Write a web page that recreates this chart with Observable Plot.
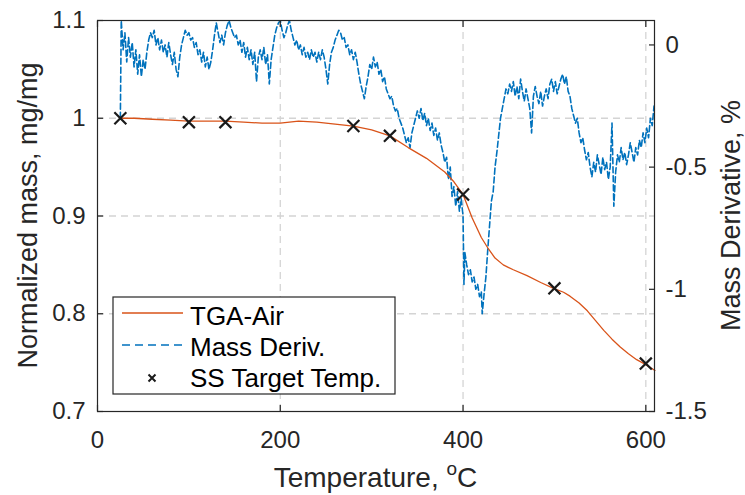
<!DOCTYPE html>
<html><head><meta charset="utf-8">
<script src="https://cdn.jsdelivr.net/npm/d3@7"></script>
<script src="https://cdn.jsdelivr.net/npm/@observablehq/plot@0.6"></script>
<style>
html,body{margin:0;padding:0;background:#fff;}
#wrap{position:relative;width:745px;height:495px;}
</style></head><body><div id="wrap"></div>
<script>
// TGA-Air normalized mass (left axis)
const tgaT = [25,40,60,80,100,120,140,160,180,200,220,240,260,280,300,320,340,360,380,390,400,410,420,428,435,444,455,470,485,499,510,517,527,536,545,554,563,572,581,590,600,610];
const tgaM = [1.000,1.000,0.999,0.998,0.997,0.997,0.997,0.996,0.995,0.995,0.997,0.996,0.994,0.992,0.988,0.982,0.970,0.959,0.945,0.935,0.922,0.898,0.878,0.866,0.857,0.850,0.845,0.839,0.832,0.826,0.822,0.818,0.811,0.803,0.793,0.783,0.774,0.766,0.759,0.753,0.748,0.742];
// SS target temperatures
const ssT = [25,100,140,280,320,400,500,600];
const ssM = [1.000,0.996,0.996,0.992,0.982,0.922,0.826,0.749];
// Mass derivative, % (right axis)
const derivT = [25,26,28,30,32,34,36,38,40,42,44,46,48,50,52,54,56,58,60,62,64,66,68,70,72,74,76,78,80,82,84,86,88,90,92,94,96,98,100,102,104,106,108,110,112,114,116,118,120,122,124,126,128,130,132,134,136,138,140,142,144,146,148,150,152,154,156,158,160,162,164,166,168,170,172,174,176,178,180,182,184,186,188,190,192,194,196,198,200,202,204,206,208,210,212,214,216,218,220,222,224,226,228,230,232,234,236,238,240,242,244,246,248,250,252,254,256,258,260,262,264,266,268,270,272,274,276,278,280,282,284,286,288,290,292,294,296,298,300,302,304,306,308,310,312,314,316,318,320,322,324,326,328,330,332,334,336,338,340,342,344,346,348,350,352,354,356,358,360,362,364,366,368,370,372,374,376,378,380,382,384,386,388,390,392,394,396,398,400,401,402,404,406,408,410,412,414,416,418,420,421,423,425,427,429,431,433,435,437,439,441,443,445,447,449,451,453,455,457,459,461,463,465,467,469,471,473,475,477,479,481,483,485,487,489,491,493,495,497,499,501,503,505,507,509,511,513,515,517,519,521,523,525,527,529,531,533,535,537,539,541,543,545,547,549,551,553,555,557,559,561,563,565,567,569,571,573,575,577,579,581,583,585,587,589,591,593,595,597,599,601,603,605,607,609,610];
const derivV = [-0.30,0.10,-0.02,0.05,-0.07,0.03,-0.05,0.01,-0.09,-0.02,-0.12,-0.04,-0.13,-0.06,-0.10,-0.03,0.02,0.05,0.03,0.06,0.00,0.03,-0.02,0.02,-0.03,0.00,-0.05,0.01,-0.04,-0.08,-0.03,-0.10,-0.13,-0.05,0.00,0.03,0.06,0.04,0.05,0.02,0.03,-0.01,0.01,-0.04,-0.02,-0.07,-0.03,-0.09,-0.05,-0.10,-0.07,-0.02,0.04,0.09,0.05,0.01,0.04,0.00,0.05,0.08,0.10,0.07,0.05,0.03,0.04,0.00,0.02,-0.03,0.01,-0.05,-0.01,-0.06,-0.02,-0.08,-0.03,-0.15,-0.05,-0.02,-0.06,-0.01,-0.08,-0.04,-0.16,-0.06,-0.01,0.04,0.07,0.09,0.10,0.06,0.03,0.05,0.08,0.10,0.06,0.03,0.00,0.02,-0.02,0.00,-0.04,-0.01,-0.05,-0.03,-0.06,-0.02,-0.05,-0.03,-0.07,-0.03,-0.06,-0.02,-0.05,-0.10,-0.16,-0.08,-0.03,-0.01,0.02,0.04,0.06,0.05,0.02,0.03,-0.01,0.00,-0.04,-0.02,-0.06,-0.03,-0.07,-0.12,-0.16,-0.19,-0.22,-0.17,-0.13,-0.08,-0.10,-0.05,-0.09,-0.07,-0.12,-0.10,-0.15,-0.13,-0.18,-0.20,-0.22,-0.21,-0.25,-0.27,-0.26,-0.30,-0.32,-0.34,-0.37,-0.40,-0.38,-0.42,-0.36,-0.33,-0.30,-0.27,-0.30,-0.26,-0.31,-0.28,-0.33,-0.30,-0.35,-0.32,-0.37,-0.34,-0.39,-0.36,-0.41,-0.44,-0.48,-0.46,-0.55,-0.50,-0.62,-0.58,-0.66,-0.60,-0.68,-0.63,-0.70,-0.98,-0.85,-0.90,-0.94,-0.92,-0.97,-0.95,-1.00,-0.98,-1.03,-1.01,-1.10,-1.02,-0.95,-0.84,-0.74,-0.64,-0.60,-0.50,-0.44,-0.37,-0.30,-0.26,-0.22,-0.18,-0.20,-0.16,-0.19,-0.15,-0.21,-0.17,-0.22,-0.14,-0.19,-0.23,-0.18,-0.22,-0.26,-0.36,-0.21,-0.17,-0.21,-0.24,-0.19,-0.25,-0.21,-0.18,-0.22,-0.16,-0.14,-0.19,-0.15,-0.20,-0.17,-0.14,-0.12,-0.16,-0.13,-0.19,-0.21,-0.26,-0.29,-0.32,-0.30,-0.36,-0.40,-0.38,-0.43,-0.47,-0.44,-0.50,-0.54,-0.48,-0.52,-0.45,-0.49,-0.53,-0.46,-0.51,-0.48,-0.55,-0.50,-0.32,-0.66,-0.52,-0.45,-0.48,-0.42,-0.47,-0.44,-0.49,-0.45,-0.40,-0.44,-0.48,-0.42,-0.45,-0.39,-0.42,-0.36,-0.40,-0.34,-0.38,-0.30,-0.33,-0.25,-0.28];

const xTicks = [0,200,400,600];
const leftTicks = [0.7,0.8,0.9,1,1.1];
const rightTicks = [0,-0.5,-1,-1.5];
const gridX = [200,400,600];
const gridY = [0.8,0.9,1.0];
const legendLabels = ["TGA-Air","Mass Deriv.","SS Target Temp."];
const colors = {tga:"#D95319", deriv:"#0072BD", marker:"#1a1a1a", axis:"#262626", grid:"#d4d4d4"};

// right axis mapped onto left scale: right 0 -> 1.075, -1.5 -> 0.7
const toLeft = d => 1.075 + 0.25 * d;
const fromLeft = v => (v - 1.075) / 0.25;

const tga = tgaT.map((t, i) => ({t, m: tgaM[i]}));
const ss = ssT.map((t, i) => ({t, m: ssM[i]}));
const deriv = derivT.map((t, i) => ({t, v: derivV[i]}));

const FONT = "'Liberation Sans', Arial, Helvetica, sans-serif";
const TK = 6; // inward tick length

const plot = Plot.plot({
  width: 745, height: 495,
  marginLeft: 97, marginRight: 91, marginTop: 20, marginBottom: 84,
  style: {fontFamily: FONT, fontSize: "24px", color: colors.axis, background: "#fff", overflow: "visible"},
  x: {domain: [0, 609.5]},
  y: {domain: [0.7, 1.1]},
  marks: [
    Plot.ruleX(gridX, {stroke: colors.grid, strokeDasharray: "7,5", strokeWidth: 1.3}),
    Plot.ruleY(gridY, {stroke: colors.grid, strokeDasharray: "7,5", strokeWidth: 1.3}),
    Plot.line(deriv, {x: "t", y: d => toLeft(d.v), stroke: colors.deriv, strokeWidth: 1.6, strokeDasharray: "6,3", clip: true}),
    Plot.line(tga, {x: "t", y: "m", stroke: colors.tga, strokeWidth: 1.3}),
    Plot.dot(ss, {x: "t", y: "m", symbol: "times", r: 5.5, stroke: colors.marker, strokeWidth: 2.2}),
    Plot.frame({stroke: colors.axis, strokeWidth: 1.2}),
    // labels
    Plot.axisX(xTicks, {anchor: "bottom", tickSize: 0, tickPadding: 19, label: null, fontSize: 24, fill: colors.axis, tickFormat: d => String(d)}),
    Plot.axisY(leftTicks, {anchor: "left", tickSize: 0, tickPadding: 12, label: null, fontSize: 24, fill: colors.axis, tickFormat: d => String(d)}),
    Plot.axisY(rightTicks.map(toLeft), {anchor: "right", tickSize: 0, tickPadding: 11, label: null, fontSize: 24, fill: colors.axis, tickFormat: d => String(Math.round(fromLeft(d) * 10) / 10)}),
    // inward ticks
    Plot.axisX(xTicks, {anchor: "bottom", tickSize: TK, dy: -TK, text: null, label: null, stroke: colors.axis, strokeWidth: 1.2}),
    Plot.axisX(xTicks, {anchor: "top", tickSize: TK, dy: TK, text: null, label: null, stroke: colors.axis, strokeWidth: 1.2}),
    Plot.axisY(leftTicks, {anchor: "left", tickSize: TK, dx: TK, text: null, label: null, stroke: colors.axis, strokeWidth: 1.2}),
    Plot.axisY(rightTicks.map(toLeft), {anchor: "right", tickSize: TK, dx: -TK, text: null, label: null, stroke: colors.axis, strokeWidth: 1.2})
  ]
});

const svg = d3.select(plot);
// axis titles
const xl = svg.append("text").attr("x", 375.5).attr("y", 487).attr("text-anchor", "middle")
  .attr("font-size", 28).attr("fill", colors.axis).attr("font-family", FONT);
xl.append("tspan").text("Temperature, ");
xl.append("tspan").attr("font-size", 19).attr("dy", -12).text("o");
xl.append("tspan").attr("dy", 12).text("C");
svg.append("text").attr("transform", "translate(37,215.5) rotate(-90)").attr("text-anchor", "middle")
  .attr("font-size", 27).attr("fill", colors.axis).attr("font-family", FONT).text("Normalized mass, mg/mg");
svg.append("text").attr("transform", "translate(740,215.5) rotate(-90)").attr("text-anchor", "middle")
  .attr("font-size", 27).attr("fill", colors.axis).attr("font-family", FONT).text("Mass Derivative, %");

// legend
const lg = svg.append("g").attr("font-family", FONT).attr("font-size", 26).attr("fill", "#000").attr("text-anchor", "start");
lg.append("rect").attr("x", 113).attr("y", 297).attr("width", 282).attr("height", 97)
  .attr("fill", "#fff").attr("stroke", colors.axis).attr("stroke-width", 1.2);
lg.append("line").attr("x1", 122).attr("x2", 183).attr("y1", 313).attr("y2", 313).attr("stroke", colors.tga).attr("stroke-width", 1.3);
lg.append("line").attr("x1", 122).attr("x2", 183).attr("y1", 345).attr("y2", 345).attr("stroke", colors.deriv).attr("stroke-width", 1.6).attr("stroke-dasharray", "8,5");
lg.append("path").attr("d", "M148.5,374.5L155.5,381.5M155.5,374.5L148.5,381.5").attr("stroke", colors.marker).attr("stroke-width", 2);
[325, 356, 387].forEach((y, i) => lg.append("text").attr("x", 190).attr("y", y).attr("text-anchor", "start").text(legendLabels[i]));

document.getElementById("wrap").appendChild(plot);
</script>
</body></html>
